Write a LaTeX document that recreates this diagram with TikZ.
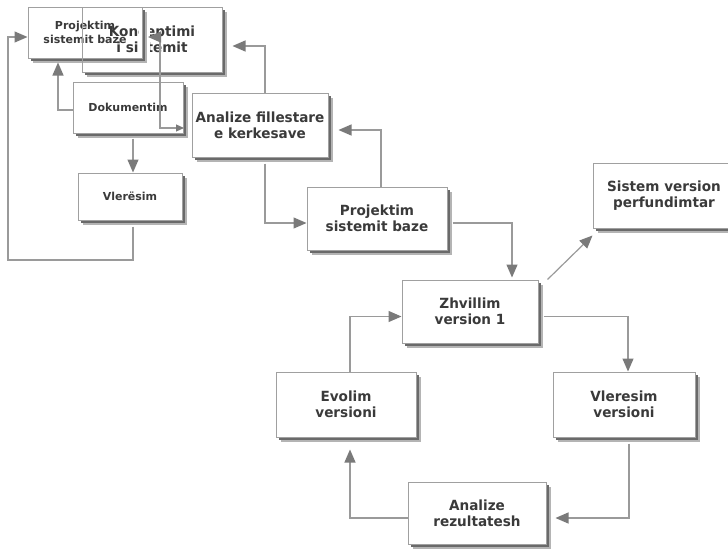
\documentclass[tikz,border=0pt]{standalone}
\usepackage{fontspec}
\setmainfont{DejaVu Sans}
\newfontfamily\boxfont[FakeStretch=0.97]{DejaVu Sans}
\usetikzlibrary{arrows.meta,shadows}
\definecolor{boxline}{HTML}{A0A0A0}
\definecolor{txt}{HTML}{3A3A3A}
\definecolor{conn}{HTML}{9A9A9A}
\definecolor{head}{HTML}{7A7A7A}
\definecolor{shdark}{HTML}{6A6A6A}
\definecolor{shlight}{HTML}{B4B4B4}
\begin{document}
\begin{tikzpicture}[x=1pt,y=-1pt,
  mainfont/.style={font=\boxfont\bfseries\fontsize{14}{16}\selectfont},
  smallfont/.style={font=\bfseries\fontsize{11}{13.5}\selectfont},
  outline/.style={draw=boxline, line width=1pt, align=center, text=txt,
    inner sep=0pt, mainfont},
  box/.style={outline, fill=white,
    general shadow={shadow xshift=4.5pt, shadow yshift=-4.5pt, fill=shlight},
    general shadow={shadow xshift=2.5pt, shadow yshift=-2.5pt, fill=shdark}},
  arr/.style={draw=conn, line width=1.2pt,
    -{Triangle[length=13pt, width=11pt, color=head]}},
  arrboth/.style={draw=conn, line width=1.2pt,
    {Triangle[length=13pt, width=11pt, color=head]}-{Triangle[length=8pt, width=7pt, color=head]}}
]
\useasboundingbox (0,0) rectangle (728,549);
\fill[white] (0,0) rectangle (728,549);

% upper-left cluster
\node[box, minimum width=140pt, minimum height=65pt] (K) at (152,39.5) {};
\node[box, smallfont, minimum width=114pt, minimum height=51pt] (P1) at (85,32.5) {Projektim\\sistemit baze};
\node[outline, minimum width=140pt, minimum height=65pt] (Kt) at (K) {Konceptimi\\i sistemit};
\begin{scope}
  \clip (139,24) rectangle (150,53);
  \fill[white] (139,24) rectangle (150,53);
  \node[box, minimum width=114pt, minimum height=51pt] (P1r) at (P1) {};
\end{scope}
\node[box, smallfont, minimum width=110pt, minimum height=51pt] (D) at (128,107.5) {Dokumentim};
\node[box, smallfont, minimum width=104pt, minimum height=47pt] (V) at (130,196.5) {Vlerësim};

% main sequence
\node[box, minimum width=136pt, minimum height=64pt] (A) at (260,125) {Analize fillestare\\e kerkesave};
\node[box, minimum width=140pt, minimum height=63pt] (P2) at (377,218.5) {Projektim\\sistemit baze};
\node[box, minimum width=136pt, minimum height=63pt] (Z) at (470,311.5) {Zhvillim\\version 1};
\node[box, minimum width=142pt, minimum height=65pt] (S) at (664,195.5) {Sistem version\\perfundimtar};
\node[box, minimum width=140pt, minimum height=65pt] (E) at (346,404.5) {Evolim\\versioni};
\node[box, minimum width=142pt, minimum height=65pt] (VV) at (624,404.5) {Vleresim\\versioni};
\node[box, minimum width=138pt, minimum height=62pt] (AR) at (477,513) {Analize\\rezultatesh};

% connectors
\coordinate (lb) at (8,260);
\coordinate (t1) at (148,37);
\coordinate (t2) at (184,128);
\draw[arr, shorten <=6pt] ([xshift=3pt]V.south) |- (lb) |- ([yshift=-4.5pt]P1.west);
\draw[arr, shorten >=4pt] ([yshift=-2.5pt]D.west) -| ([xshift=-27pt]P1.south);
\draw[arr, shorten <=5pt] ([xshift=5pt]D.south) -- ([xshift=3pt]V.north);
\draw[arrboth] (t1) -- ++(12,0) |- (t2);
\draw[arr, shorten >=10pt] ([xshift=5pt]A.north) |- ([yshift=-6.5pt]K.east);
\draw[arr, shorten <=6pt] ([xshift=5pt]A.south) |- ([yshift=-4.5pt]P2.west);
\draw[arr, shorten >=10pt] ([xshift=4pt]P2.north) |- ([yshift=-5pt]A.east);
\draw[arr, shorten <=5pt, shorten >=2pt] ([yshift=-4.5pt]P2.east) -| ([xshift=42pt]Z.north);
\draw[arr] ([xshift=9pt]Z.north east) -- ([yshift=-7pt]S.south west);
\draw[arr, shorten <=5pt] ([yshift=-5pt]Z.east) -| ([xshift=4pt]VV.north);
\draw[arr, shorten <=6pt, shorten >=9pt] ([xshift=5pt]VV.south) |- ([yshift=-5pt]AR.east);
\draw[arr, shorten >=12pt] ([yshift=-5pt]AR.west) -| ([xshift=4pt]E.south);
\draw[arr] ([xshift=4pt]E.north) |- ([yshift=-5pt]Z.west);
\end{tikzpicture}
\end{document}
